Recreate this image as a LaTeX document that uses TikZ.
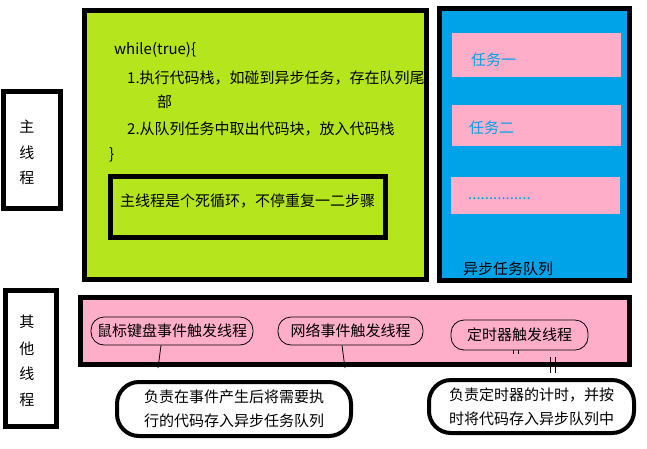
\documentclass[tikz,border=0pt]{standalone}
\usepackage{fontspec}
\setmainfont{Noto Sans CJK SC}
\definecolor{lime}{HTML}{B5E61D}
\definecolor{sky}{HTML}{00A2E8}
\definecolor{rose}{HTML}{FFAEC9}
\begin{document}
\begin{tikzpicture}[x=1pt,y=-1pt,
  every node/.style={font=\fontsize{15}{18}\selectfont, inner sep=0pt},
  thickbox/.style={draw=black, line width=5pt, minimum width=#1},
  task/.style={fill=rose, minimum width=169pt},
  pill/.style={draw=black, line width=0.8pt, rounded corners=13pt, fill=rose},
  bubble/.style={draw=black, line width=4pt, rounded corners=22pt, fill=white},
  txt/.style={anchor=west, text=black},
  ttxt/.style={anchor=west, text=sky},
  conn/.style={draw=black, line width=0.8pt}]
\useasboundingbox (0,0) rectangle (647,448);
\fill[white] (0,0) rectangle (647,448);
% main thread label
\node[thickbox=57pt, minimum height=117pt, fill=white] (mt) at (32,150) {};
\node (mt1) at (27,127) {主};
\node (mt2) at (27,153) {线};
\node (mt3) at (27,178) {程};
% green box
\node[thickbox=342pt, minimum height=269pt, fill=lime] (green) at (255.5,145) {};
\node[txt] (w0) at (114,50) {while(true)\{};
\node[txt] (w1) at (127,78) {1.执行代码栈，如碰到异步任务，存在队列尾};
\node[txt] (w2) at (157,102) {部};
\node[txt] (w3) at (127,129) {2.从队列任务中取出代码块，放入代码栈};
\node[txt] (w4) at (109,155) {\}};
\node[thickbox=275pt, minimum height=61pt] (inner) at (248,207) {};
\node[txt] (innertext) at (120,201) {主线程是个死循环，不停重复一二步骤};
% blue queue
\node[thickbox=190pt, minimum height=272pt, fill=sky] (queue) at (534.5,144.5) {};
\node[task, minimum height=44pt] (t1) at (536,55) {};
\node[ttxt] (t1t) at (471,60) {任务一};
\node[task, minimum height=41pt] (t2) at (536,125.5) {};
\node[ttxt] (t2t) at (469,128) {任务二};
\node[task, minimum height=37pt] (t3) at (535,195.5) {};
\node[ttxt] (t3t) at (468,199) {...............};
\node[txt] (qlabel) at (463,269) {异步任务队列};
% other threads label
\node[thickbox=51pt, minimum height=136pt, fill=white] (ot) at (31,358.5) {};
\node (ot1) at (27,322) {其};
\node (ot2) at (27,349) {他};
\node (ot3) at (27,374) {线};
\node (ot4) at (27,400) {程};
% pink band
\node[thickbox=549pt, minimum height=67pt, fill=rose] (band) at (355,331) {};
\node[pill, minimum width=162pt, minimum height=28pt] (e1) at (172,331) {鼠标键盘事件触发线程};
\node[pill, minimum width=145pt, minimum height=28pt] (e2) at (350.5,331) {网络事件触发线程};
\node[pill, minimum width=137pt, minimum height=30pt] (e3) at (519.5,335) {定时器触发线程};
% bubbles
\node[bubble, minimum width=234pt, minimum height=54pt, align=left,
  font=\fontsize{15}{24}\selectfont] (b1) at (234,409)
  {负责在事件产生后将需要执\\行的代码存入异步任务队列};
\node[bubble, minimum width=205pt, minimum height=53pt, align=left,
  font=\fontsize{15}{24}\selectfont] (b2) at (531.5,406.5)
  {负责定时器的计时，并按\\时将代码存入异步队列中};
% connectors
\coordinate (c1) at (158,368);
\coordinate (c2) at (345,368);
\draw[conn] ([xshift=-11pt]e1.south) -- (c1);
\draw[conn] ([xshift=-8.5pt]e2.south) -- (c2);
\coordinate (d1) at (513,354);
\coordinate (d2) at (518,354);
\draw[conn] ([xshift=-6.5pt]e3.south) -- (d1);
\draw[conn] ([xshift=-1.5pt]e3.south) -- (d2);
\coordinate (d3a) at (550,357);
\coordinate (d3b) at (550,373);
\coordinate (d4a) at (555,357);
\coordinate (d4b) at (555,373);
\draw[conn] (d3a) -- (d3b);
\draw[conn] (d4a) -- (d4b);
\end{tikzpicture}
\end{document}
